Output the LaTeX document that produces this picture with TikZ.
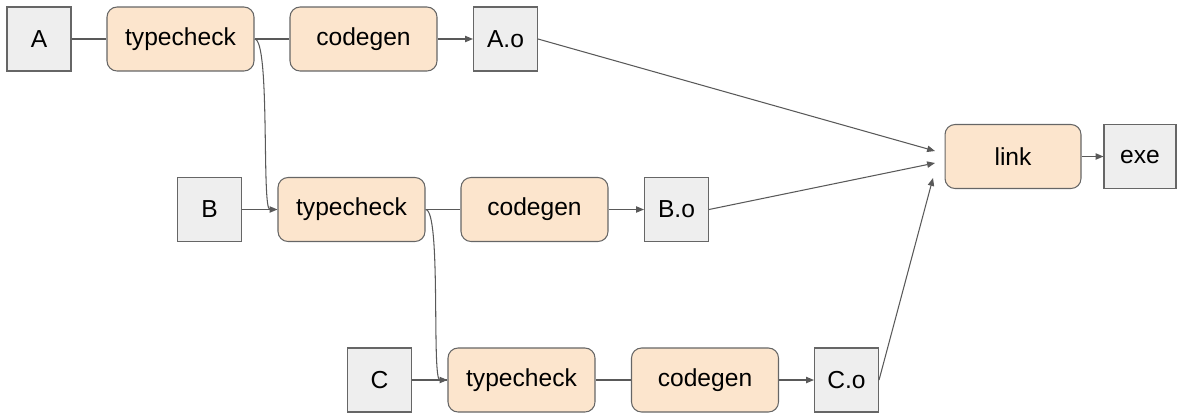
\documentclass[tikz,border=0pt]{standalone}
\usepackage{fontspec}
\setmainfont{Liberation Sans}
\usepackage{xcolor}
\usetikzlibrary{arrows.meta}

\definecolor{edgegray}{HTML}{595959}
\definecolor{boxline}{HTML}{666666}
\definecolor{filegray}{HTML}{EEEEEE}
\definecolor{stepfill}{HTML}{FCE5CD}

\begin{document}
\begin{tikzpicture}[x=0.02cm, y=-0.02cm,
  every node/.style={draw=boxline, line width=0.6pt, minimum height=1.28cm, inner sep=0pt, font=\fontsize{14}{16}\selectfont},
  file/.style={fill=filegray, minimum width=1.28cm},
  task/.style={fill=stepfill, rounded corners=0.2cm, minimum width=2.94cm},
  wire/.style={draw=edgegray, line width=0.6pt},
  flow/.style={wire, -{Triangle[length=4.5pt,width=3.6pt]}}]
\useasboundingbox (0,0) rectangle (1179,413);
% Row A
\node[file] (A) at (39,39) {A};
\node[task] (tcA) at (180.5,39) {typecheck};
\node[task] (cgA) at (363.5,39) {codegen};
\node[file] (Ao) at (505.5,39) {A.o};
% Row B
\node[file] (B) at (209.5,209.5) {B};
\node[task] (tcB) at (351.5,209.5) {typecheck};
\node[task] (cgB) at (534.5,209.5) {codegen};
\node[file] (Bo) at (676.5,209.5) {B.o};
% Row C
\node[file] (C) at (379.5,380) {C};
\node[task] (tcC) at (521.5,380) {typecheck};
\node[task] (cgC) at (705,380) {codegen};
\node[file] (Co) at (846.5,380) {C.o};
% Link
\node[task, minimum width=2.72cm] (link) at (1013,156.5) {link};
\node[file, minimum width=1.44cm] (exe) at (1140,156.5) {exe};
\coordinate (inA) at (935,151);
\coordinate (inB) at (935,163);
\coordinate (inC) at (933,178);
% Edges
\draw[wire] (A) -- (tcA) (tcA) -- (cgA);
\draw[wire] (B) -- (tcB) (tcB) -- (cgB);
\draw[wire] (C) -- (tcC) (tcC) -- (cgC);
\draw[flow] (cgA) -- (Ao);
\draw[flow] (cgB) -- (Bo);
\draw[flow] (cgC) -- (Co);
\draw[flow] (tcA.east) .. controls +(16,0) and +(-16,0) .. (tcB.west);
\draw[flow] (tcB.east) .. controls +(16,0) and +(-16,0) .. (tcC.west);
\draw[flow] (Ao.east) -- (inA);
\draw[flow] (Bo.east) -- (inB);
\draw[flow] (Co.east) -- (inC);
\draw[flow] (link) -- (exe);
\end{tikzpicture}
\end{document}
